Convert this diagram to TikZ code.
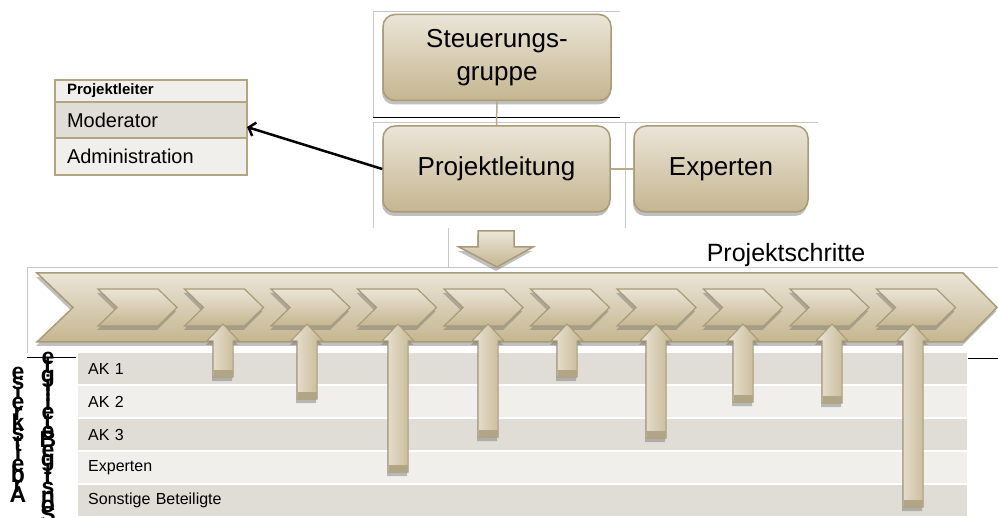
\documentclass[tikz,border=0pt]{standalone}
\usepackage{fontspec}
\setmainfont{Liberation Sans}
\usepackage{tikz}
\usetikzlibrary{arrows.meta}
\usetikzlibrary{positioning}
\usetikzlibrary{shadows}
\definecolor{tanlight}{HTML}{EBE5D8}
\definecolor{tandark}{HTML}{C5B690}
\definecolor{tanline}{HTML}{A89B77}
\definecolor{tanlink}{HTML}{B9AB86}
\definecolor{lanedark}{HTML}{E0DDD6}
\definecolor{lanelight}{HTML}{F0EFEB}
\definecolor{cellline}{HTML}{B3A57F}
\definecolor{framegray}{HTML}{C8C8C8}

\begin{document}
\begin{tikzpicture}[x=1pt,y=-1pt,
  shadebox/.style={top color=tanlight,bottom color=tandark,draw=tanline,line width=1.5pt},
  softshadow/.style={drop shadow={shadow xshift=-1pt,shadow yshift=-4pt,fill=black!55,opacity=.45}},
  unit/.style={shadebox,softshadow,rounded corners=12pt,minimum height=86pt,align=center,inner sep=0pt,font=\fontsize{26}{33}\selectfont},
  cell/.style={draw=cellline,line width=1.5pt,outer sep=0pt,minimum width=192pt,text width=168pt,inner xsep=12pt,inner ysep=0pt,align=left,font=\fontsize{20}{24}\selectfont},
  lane/.style={minimum width=889pt,minimum height=31pt,text width=869pt,inner xsep=10pt,inner ysep=0pt,anchor=north west,align=left,font=\fontsize{16}{19}\selectfont},
  vletter/.style={anchor=base,inner sep=0pt,font=\bfseries\fontsize{23}{23}\selectfont},
  riser/.style={left color=tanlight,right color=tandark,draw=tanline,line width=1pt,softshadow},
  link/.style={draw=tanlink,line width=1.5pt},
  pointer/.style={draw=black,line width=2.5pt,-{Straight Barb[length=6pt,width=14pt]}},
  frameline/.style={draw=framegray,line width=.8pt}]
  \useasboundingbox (0,0) rectangle (998,518);

  % slide frames
  \draw[frameline] (373,117) -- (373,11) -- (620,11);
  \draw[black,line width=.8pt] (373,117) -- (620,117);
  \draw[frameline] (373,228) -- (373,122) -- (818,122);
  \draw[frameline] (625,122) -- (625,228);
  \draw[frameline] (448,228) -- (448,267);
  \draw[frameline] (27,353) -- (27,267) -- (998,267);
  \draw[black,line width=.8pt] (27,357) -- (76,357);
  \draw[black,line width=.8pt] (968,358) -- (998,358);

  % organisation
  \node[unit,minimum width=228pt] (sg) at (497,57.5) {Steuerungs-\\gruppe};
  \node[unit,minimum width=227pt] (pl) at (496.5,169) {Projektleitung};
  \node[unit,minimum width=174pt] (ex) at (721,169) {Experten};
  \draw[link] (sg.south) -- (pl.north);
  \draw[link] (pl.east) -- (ex.west);

  \node[cell,fill=lanelight,minimum height=22pt,anchor=north west,font=\fontsize{15}{18}\selectfont\bfseries] (lead) at (55,80) {Projektleiter};
  \node[cell,fill=lanedark,minimum height=36pt,below=0pt of lead] (mod) {Moderator};
  \node[cell,fill=lanelight,minimum height=37pt,below=0pt of mod] (adm) {Administration};
  \draw[pointer] (pl.west) -- ([yshift=-7pt]mod.east);

  \draw[shadebox,softshadow] (478,231) -- (514,231) -- (514,247) -- (533,247) -- (497,267) -- (459,247) -- (478,247) -- cycle;
  \node[anchor=base,font=\fontsize{25}{30}\selectfont] (steps) at (786,262) {Projektschritte};

  % lanes
  \foreach \name/\txt/\col [count=\i from 0] in {ak1/AK 1/lanedark,ak2/AK 2/lanelight,ak3/AK 3/lanedark,exp/Experten/lanelight,misc/Sonstige Beteiligte/lanedark}
    \node[lane,fill=\col] (\name) at (78,{353+33*\i}) {\txt};

  % timeline
  \draw[shadebox,softshadow] (37,273) -- (963,273) -- (997,307.5) -- (963,342) -- (37,342) -- (73,307.5) -- cycle;
  \foreach \i in {0,...,9}
    \draw[shadebox,softshadow,line width=1.2pt] ({98+86.5*\i},289) -- ++(60,0) -- ++(19,18.5) -- ++(-19,18.5) -- ++(-60,0) -- ++(19,-18.5) -- cycle;

  \foreach \cx/\yb in {223/377,307/399,398/472,488/437,567/377,656/438,743/402,832/403,913/507}{
    \draw[riser] (\cx,324) -- ++(16,17) -- ++(-6,0) -- ({\cx+10},\yb) -- ++(-20,0) -- ({\cx-10},341) -- ++(-6,0) -- cycle;
    \fill[tanline!90] ({\cx-9.5},{\yb-7}) rectangle ({\cx+9.5},{\yb-.5});
  }

  % stacked labels
  \foreach \ch [count=\i from 0] in {e,s,i,e,r,k,s,t,i,e,b,r,A}
    \node[vletter] (arb\i) at (18,{379+10.3*\i}) {\ch};
  \foreach \ch [count=\i from 0] in {e,t,g,i,l,i,e,t,e,B,e,g,i,t,s,n,o,S}
    \node[vletter] (son\i) at (48,{364+9.3*\i}) {\ch};
\end{tikzpicture}
\end{document}
